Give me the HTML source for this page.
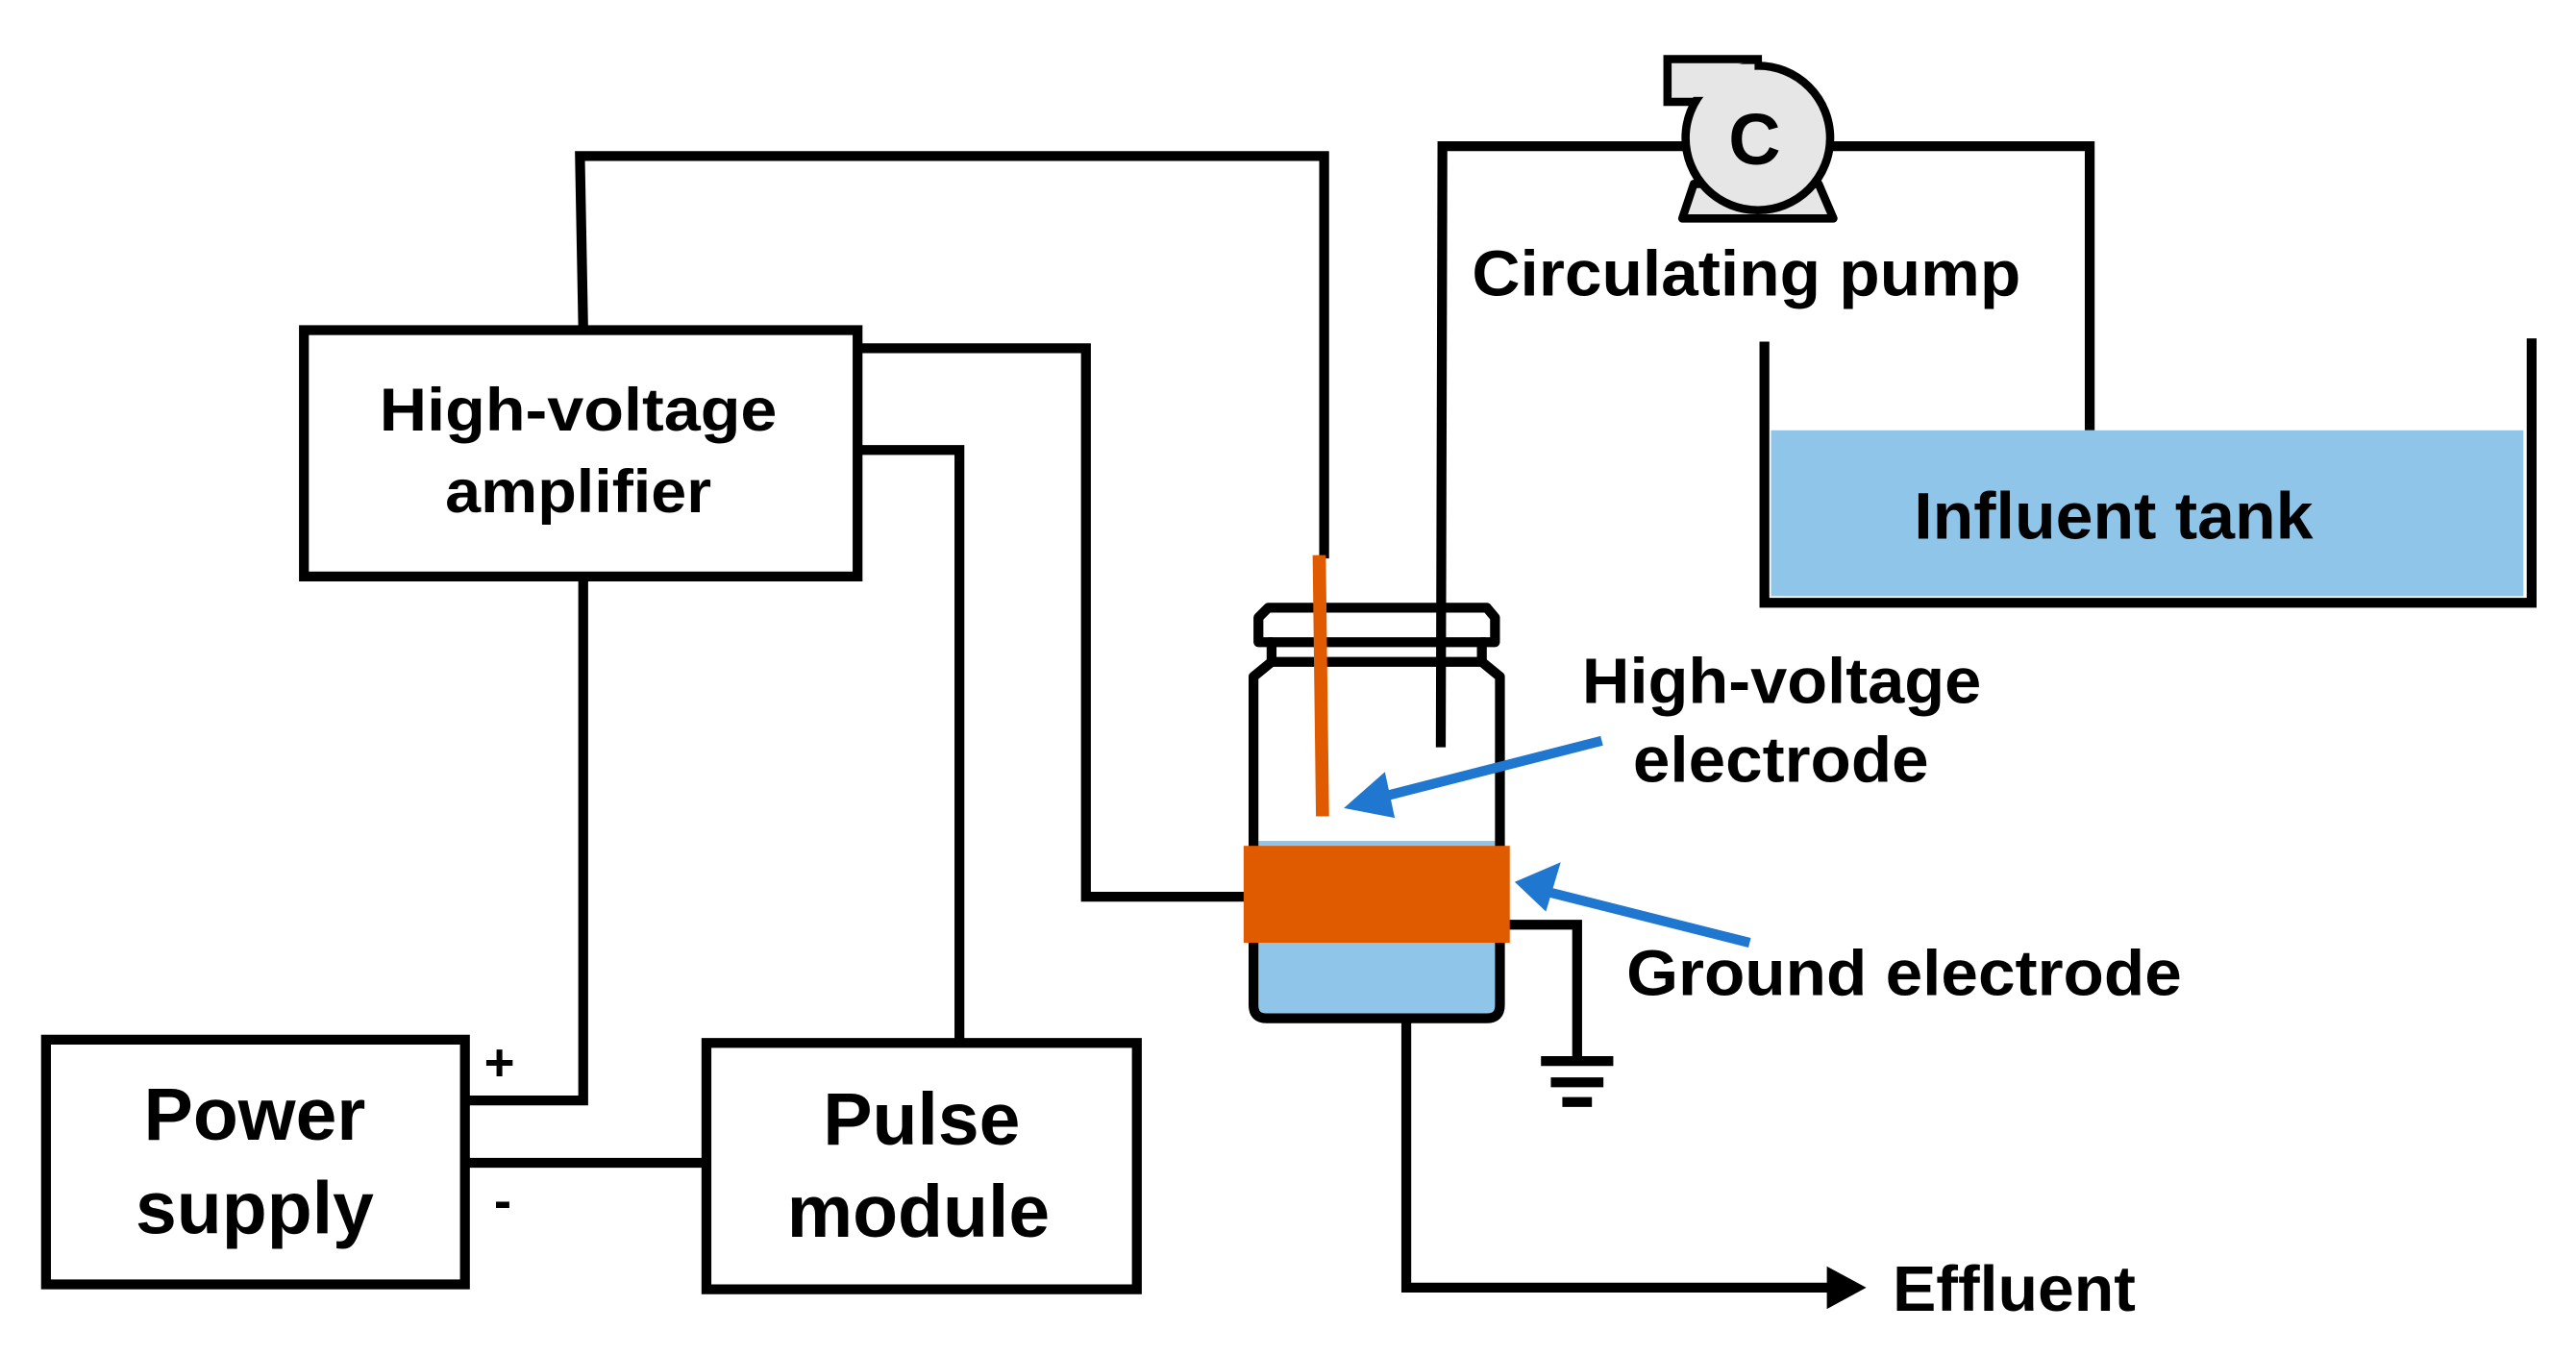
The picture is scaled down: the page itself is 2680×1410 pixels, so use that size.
<!DOCTYPE html>
<html><head><meta charset="utf-8"><style>
html,body{margin:0;padding:0;background:#fff}
svg{display:block}
text{font-family:"Liberation Sans",Arial,sans-serif;font-weight:bold;fill:#000}
</style></head><body>
<svg width="2680" height="1410" viewBox="0 0 1568 825" preserveAspectRatio="none" xmlns="http://www.w3.org/2000/svg">
<g fill="none" stroke="#000" stroke-width="6" stroke-linejoin="miter">
<polyline points="355,200 353,95 806,95 806,340"/>
<polyline points="522,212 661,212 661,546 760,546"/>
<polyline points="522,274 584,274 584,634"/>
<polyline points="355,352 355,670 283,670"/>
<line x1="283" y1="708" x2="430" y2="708"/>
<polyline points="877,455 878,89 1030,89"/>
<polyline points="1110,89 1272,89 1272,262"/>
<polyline points="1074,208 1074,367 1541,367 1541,206"/>
<polyline points="918,563 960,563 960,645"/>
<polyline points="856,622 856,784 1115,784"/>
</g>
<rect x="185" y="201" width="337" height="150" fill="#fff" stroke="#000" stroke-width="6"/>
<rect x="28" y="633" width="255" height="149" fill="#fff" stroke="#000" stroke-width="6"/>
<rect x="430" y="635" width="262" height="150" fill="#fff" stroke="#000" stroke-width="6"/>
<rect x="1078" y="262" width="458" height="101" fill="#8ec5e8"/>
<g stroke="#000" stroke-width="6">
<line x1="938" y1="646" x2="982" y2="646"/>
<line x1="944" y1="659" x2="976" y2="659"/>
<line x1="951" y1="671" x2="969" y2="671"/>
</g>
<polygon points="1112,771 1136,784 1112,797" fill="#000"/>
<rect x="766" y="512" width="144" height="108" fill="#8ec5e8"/>
<path d="M772,370 L905,370 L910,376 L910,391 L902,391 L902,403 L913,412 L913,612 Q913,620 905,620 L771,620 Q763,620 763,612 L763,412 L774,403 L774,391 L766,391 L766,376 Z" fill="none" stroke="#000" stroke-width="6" stroke-linejoin="round"/>
<line x1="772" y1="391" x2="904" y2="391" stroke="#000" stroke-width="6"/>
<line x1="774" y1="403" x2="902" y2="403" stroke="#000" stroke-width="6"/>
<line x1="803" y1="338" x2="805" y2="497" stroke="#e05a00" stroke-width="8"/>
<rect x="757" y="515" width="162" height="59" fill="#e05a00"/>
<g stroke="#1f77d0" stroke-width="6" fill="#1f77d0">
<line x1="975" y1="451" x2="838" y2="486"/>
<line x1="1065" y1="574" x2="942" y2="543"/>
</g>
<polygon points="818,492 843,470 849,498" fill="#1f77d0"/>
<polygon points="922,537 950,525 941,555" fill="#1f77d0"/>
<path d="M1015,36 L1070,36 L1070,62 L1015,62 Z" fill="#e6e6e6" stroke="#000" stroke-width="5"/>
<polygon points="1031,112 1107,112 1116,133 1024,133" fill="#e6e6e6" stroke="#000" stroke-width="5" stroke-linejoin="round"/>
<circle cx="1070" cy="84" r="44" fill="#e6e6e6" stroke="#000" stroke-width="5"/>
<rect x="1018" y="39" width="50" height="20" fill="#e6e6e6"/>
<text x="1068" y="100" font-size="44" text-anchor="middle">C</text>
<text x="231" y="262" font-size="37" textLength="242" lengthAdjust="spacingAndGlyphs">High-voltage</text>
<text x="271" y="312" font-size="37" textLength="162" lengthAdjust="spacingAndGlyphs">amplifier</text>
<text x="155" y="694" font-size="45" text-anchor="middle">Power</text>
<text x="155" y="751" font-size="45" text-anchor="middle">supply</text>
<text x="561" y="697" font-size="45" text-anchor="middle">Pulse</text>
<text x="559" y="753" font-size="45" text-anchor="middle">module</text>
<text x="304" y="658" font-size="32" text-anchor="middle">+</text>
<text x="306" y="742" font-size="32" text-anchor="middle">-</text>
<text x="896" y="180" font-size="39" textLength="334" lengthAdjust="spacingAndGlyphs">Circulating pump</text>
<text x="1165" y="328" font-size="40" textLength="243" lengthAdjust="spacingAndGlyphs">Influent tank</text>
<text x="963" y="428" font-size="39" textLength="243" lengthAdjust="spacingAndGlyphs">High-voltage</text>
<text x="994" y="476" font-size="39" textLength="180" lengthAdjust="spacingAndGlyphs">electrode</text>
<text x="990" y="606" font-size="39" textLength="338" lengthAdjust="spacingAndGlyphs">Ground electrode</text>
<text x="1152" y="798" font-size="39" textLength="148" lengthAdjust="spacingAndGlyphs">Effluent</text>
</svg>
</body></html>
